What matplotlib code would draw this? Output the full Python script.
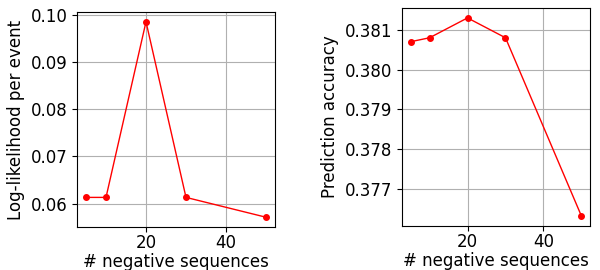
import matplotlib
matplotlib.use("Agg")
import matplotlib.pyplot as plt

neg_sequences = [5, 10, 20, 30, 50]
loglik_per_event = [0.0613, 0.0613, 0.0985, 0.0613, 0.0571]
pred_accuracy = [0.3807, 0.3808, 0.3813, 0.3808, 0.37631]

plt.rcParams["font.size"] = 12

fig = plt.figure(figsize=(6, 2.7), dpi=100)
W, H = 600, 270


def _box(x0, y0, x1, y1):
    return [x0 / W, 1 - y1 / H, (x1 - x0) / W, (y1 - y0) / H]


ax1 = fig.add_axes(_box(77, 12, 275, 227))
ax2 = fig.add_axes(_box(402, 8, 590, 226))

for ax, vals, ylabel in [(ax1, loglik_per_event, "Log-likelihood per event"),
                         (ax2, pred_accuracy, "Prediction accuracy")]:
    ax.plot(neg_sequences, vals, color="red", marker="o", markersize=4, linewidth=1)
    ax.grid(True, color="#b0b0b0", linewidth=0.8)
    ax.set_axisbelow(True)
    ax.tick_params(axis="x", pad=1.5)
    ax.set_xlabel("# negative sequences", labelpad=1)
    ax.set_ylabel(ylabel)

ax1.set_yticks([0.06, 0.07, 0.08, 0.09, 0.10])
ax2.set_yticks([0.377, 0.378, 0.379, 0.380, 0.381])

fig.savefig("out.png", dpi=100)
